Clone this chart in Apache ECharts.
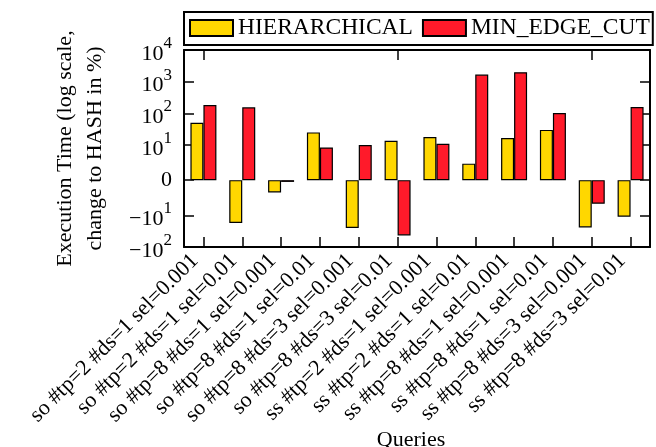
<!DOCTYPE html>
<html>
<head>
<meta charset="utf-8">
<style>
  html, body { margin: 0; padding: 0; background: #ffffff; }
  #chart { width: 656px; height: 447px; }
</style>
<script src="https://cdn.jsdelivr.net/npm/echarts@6/dist/echarts.min.js"></script>
</head>
<body>
<div id="chart"></div>
<script>
// ---- data ----
const categories = [
  'so #tp=2 #ds=1 sel=0.001',
  'so #tp=2 #ds=1 sel=0.01',
  'so #tp=8 #ds=1 sel=0.001',
  'so #tp=8 #ds=1 sel=0.01',
  'so #tp=8 #ds=3 sel=0.001',
  'so #tp=8 #ds=3 sel=0.01',
  'ss #tp=2 #ds=1 sel=0.001',
  'ss #tp=2 #ds=1 sel=0.01',
  'ss #tp=8 #ds=1 sel=0.001',
  'ss #tp=8 #ds=1 sel=0.01',
  'ss #tp=8 #ds=3 sel=0.001',
  'ss #tp=8 #ds=3 sel=0.01'
];
const hierarchical = [50, -17.4, -3.5, 25, -25, 13.6, 17.8, 4.7, 16.5, 30, -24, -11];
const minEdgeCut = [183, 155, -0.5, 9.3, 10, -43, 10.9, 1670, 1980, 102, -6.7, 158];
const seriesNames = ['HIERARCHICAL', 'MIN_EDGE_CUT'];
const yTickValues = [-100, -10, 0, 10, 100, 1000, 10000];
const yTickLabels = ['{b|\u221210}{s|2}', '{b|\u221210}{s|1}', '{b|0}', '{b|10}{s|1}', '{b|10}{s|2}', '{b|10}{s|3}', '{b|10}{s|4}'];

// ---- symmetric log transform (linthresh 10, linscale 1) ----
const LIN = 10;
const LINSCALE = 1 / (1 - 1 / 10);
function symlog(v) {
  const a = Math.abs(v);
  const t = a <= LIN ? (a / LIN) * LINSCALE : LINSCALE + Math.log10(a / LIN);
  return Math.sign(v) * t;
}
const yTicksT = yTickValues.map(symlog);
const yMin = yTicksT[0];
const yMax = yTicksT[yTicksT.length - 1];

const FONT = 'Liberation Serif';

function labelFor(v) {
  let best = 0, bd = Infinity;
  yTicksT.forEach((t, i) => { const d = Math.abs(t - v); if (d < bd) { bd = d; best = i; } });
  return bd < 1e-6 ? yTickLabels[best] : '';
}

const chart = echarts.init(document.getElementById('chart'), null, { renderer: 'canvas' });

const axisLineStyle = { show: true, onZero: false, lineStyle: { color: '#000', width: 2 } };

const option = {
  animation: false,
  backgroundColor: '#ffffff',
  legend: {
    left: 184,
    top: 12,
    width: 500,
    orient: 'horizontal',
    padding: [4, 3, 5, 5],
    itemGap: 9,
    itemWidth: 43,
    itemHeight: 16,
    borderColor: '#000',
    borderWidth: 2,
    icon: 'rect',
    textStyle: { fontFamily: FONT, fontSize: 23.5, color: '#000', lineHeight: 23 },
    data: seriesNames
  },
  grid: { left: 184, top: 50, right: 6, bottom: 200, containLabel: false, outerBoundsMode: 'none' },
  xAxis: [
    {
      type: 'category',
      position: 'bottom',
      data: categories,
      axisLine: axisLineStyle,
      axisTick: { show: true, inside: true, alignWithLabel: true, length: 10, lineStyle: { color: '#000', width: 1.5 } },
      axisLabel: {
        interval: 0,
        rotate: 45,
        fontFamily: FONT,
        fontSize: 22,
        color: '#000',
        margin: 2,
        verticalAlign: 'middle',
        padding: [0, 12, 0, 0]
      },
      name: 'Queries',
      nameLocation: 'middle',
      nameGap: 180,
      nameTextStyle: { fontFamily: FONT, fontSize: 22, color: '#000', padding: [0, 12, 0, 0] },
      splitLine: { show: false }
    },
    {
      type: 'category',
      position: 'top',
      data: categories,
      axisLine: axisLineStyle,
      axisTick: { show: true, inside: true, alignWithLabel: true, length: 10, lineStyle: { color: '#000', width: 1.5 } },
      axisLabel: { show: false },
      splitLine: { show: false }
    }
  ],
  yAxis: [
    {
      type: 'value',
      position: 'left',
      min: yMin,
      max: yMax,
      axisLine: axisLineStyle,
      axisTick: { show: true, inside: true, length: 10, customValues: yTicksT, lineStyle: { color: '#000', width: 1.5 } },
      axisLabel: {
        customValues: yTicksT,
        margin: 12,
        formatter: labelFor,
        rich: {
          b: { fontFamily: FONT, fontSize: 22, color: '#000', verticalAlign: 'bottom', lineHeight: 22 },
          s: { fontFamily: FONT, fontSize: 17, color: '#000', verticalAlign: 'top', lineHeight: 30 }
        }
      },
      splitLine: { show: false },
      name: 'Execution Time (log scale,\nchange to HASH in %)',
      nameLocation: 'middle',
      nameGap: 74,
      nameTextStyle: { fontFamily: FONT, fontSize: 22, color: '#000', lineHeight: 30 }
    },
    {
      type: 'value',
      position: 'right',
      min: yMin,
      max: yMax,
      axisLine: axisLineStyle,
      axisTick: { show: true, inside: true, length: 10, customValues: yTicksT, lineStyle: { color: '#000', width: 1.5 } },
      axisLabel: { show: false },
      splitLine: { show: false }
    }
  ],
  series: [
    {
      name: seriesNames[0],
      type: 'bar',
      xAxisIndex: 0,
      yAxisIndex: 0,
      barWidth: 13,
      barGap: '0%',
      data: hierarchical.map(symlog),
      itemStyle: { color: '#ffd700', borderColor: '#000', borderWidth: 1.2 }
    },
    {
      name: seriesNames[1],
      type: 'bar',
      xAxisIndex: 0,
      yAxisIndex: 0,
      barWidth: 13,
      barGap: '0%',
      data: minEdgeCut.map(symlog),
      itemStyle: { color: '#ff1a2a', borderColor: '#000', borderWidth: 1.2 }
    }
  ]
};

chart.setOption(option);
</script>
</body>
</html>
